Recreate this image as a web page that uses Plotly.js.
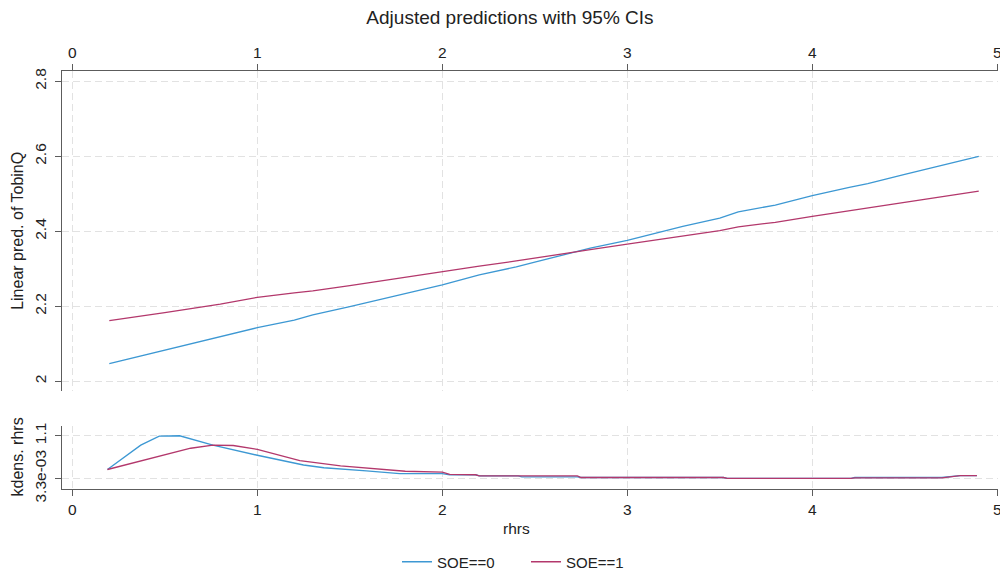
<!DOCTYPE html>
<html>
<head>
<meta charset="utf-8">
<script src="https://cdn.plot.ly/plotly-3.0.1.min.js"></script>
<style>html,body{margin:0;padding:0;background:#fff;}#chart{width:1000px;height:571px;}</style>
</head>
<body>
<div id="chart"></div>
<script>
// ---- data ----
const seriesNames = ["SOE==0", "SOE==1"];
const xPred = [0.2, 0.5, 0.8, 1.0, 1.2, 1.3, 1.5, 1.8, 2.0, 2.2, 2.4, 2.5, 2.8, 3.0, 3.3, 3.5, 3.6, 3.8, 4.0, 4.2, 4.3, 4.5, 4.7, 4.9];
const predSOE0 = [2.047, 2.083, 2.117, 2.143, 2.163, 2.177, 2.199, 2.235, 2.257, 2.284, 2.305, 2.318, 2.355, 2.376, 2.413, 2.435, 2.452, 2.470, 2.495, 2.517, 2.527, 2.552, 2.576, 2.600];
const predSOE1 = [2.162, 2.183, 2.206, 2.224, 2.236, 2.241, 2.255, 2.278, 2.292, 2.307, 2.321, 2.329, 2.351, 2.366, 2.388, 2.402, 2.412, 2.424, 2.440, 2.455, 2.462, 2.477, 2.492, 2.507];

const xDens0 = [0.19, 0.37, 0.47, 0.58, 0.76, 1.0, 1.25, 1.36, 1.59, 1.77, 2.0, 2.04, 2.18, 2.2, 2.41, 2.43, 2.73, 2.75, 3.52, 3.54, 4.21, 4.23, 4.70, 4.78, 4.80, 4.89];
const dens0   = [0.235, 0.86, 1.09, 1.10, 0.86, 0.60, 0.35, 0.28, 0.20, 0.13, 0.13, 0.10, 0.10, 0.07, 0.07, 0.045, 0.045, 0.03, 0.03, 0.005, 0.005, 0.03, 0.03, 0.06, 0.08, 0.08];
const xDens1 = [0.19, 0.46, 0.64, 0.76, 0.87, 1.0, 1.23, 1.45, 1.70, 1.80, 2.0, 2.04, 2.18, 2.2, 2.73, 2.75, 3.52, 3.54, 4.21, 4.23, 4.70, 4.78, 4.80, 4.89];
const dens1   = [0.235, 0.56, 0.78, 0.86, 0.85, 0.75, 0.46, 0.33, 0.22, 0.19, 0.17, 0.11, 0.10, 0.07, 0.07, 0.03, 0.03, 0.005, 0.005, 0.02, 0.02, 0.06, 0.08, 0.08];

const xTicks = [0, 1, 2, 3, 4, 5];
const yTicksTop = [2, 2.2, 2.4, 2.6, 2.8];
const yTickLabelsTop = ["2", "2.2", "2.4", "2.6", "2.8"];
const yTicksBot = [0.0033, 1.1];
const yTickLabelsBot = ["3.3e-03", "1.1"];

const titleText = "Adjusted predictions with 95% CIs";
const yTitleTop = "Linear pred. of TobinQ";
const yTitleBot = "kdens. rhrs";
const xTitle = "rhrs";

// ---- style ----
const colors = ["#3d98d3", "#b3386c"];
const FONT = "Liberation Sans, Arial, sans-serif";
const axisCol = "#5c5c5c";
const gridCol = "#e2e2e2";

const traces = [
  {x: xPred, y: predSOE0, name: seriesNames[0], mode: "lines", line: {color: colors[0], width: 1.3}, xaxis: "x", yaxis: "y"},
  {x: xPred, y: predSOE1, name: seriesNames[1], mode: "lines", line: {color: colors[1], width: 1.3}, xaxis: "x", yaxis: "y"},
  {x: xDens0, y: dens0, name: seriesNames[0], mode: "lines", line: {color: colors[0], width: 1.3}, xaxis: "x2", yaxis: "y2", showlegend: false},
  {x: xDens1, y: dens1, name: seriesNames[1], mode: "lines", line: {color: colors[1], width: 1.3}, xaxis: "x2", yaxis: "y2", showlegend: false}
];

const xCommon = {
  range: [-0.0557, 5.004], tickvals: xTicks, ticktext: xTicks.map(String),
  showgrid: true, gridcolor: gridCol, griddash: "7px,4px", gridwidth: 1,
  zeroline: false, showline: true, linecolor: axisCol, linewidth: 1.3,
  ticks: "outside", ticklen: 6, tickcolor: axisCol, tickwidth: 1.2,
  ticklabeloverflow: "allow", automargin: false,
  tickfont: {family: FONT, size: 15.5, color: "#222"}
};
const yCommon = {
  showgrid: true, gridcolor: gridCol, griddash: "7px,4px", gridwidth: 1,
  zeroline: false, showline: true, linecolor: axisCol, linewidth: 1.3,
  ticks: "outside", ticklen: 6, tickcolor: axisCol, tickwidth: 1.2,
  tickangle: -90, ticklabelstandoff: 3, automargin: false,
  tickfont: {family: FONT, size: 15.5, color: "#222"}
};

const layout = {
  width: 1000, height: 571,
  margin: {l: 62, r: 2, t: 71, b: 82},
  paper_bgcolor: "#ffffff", plot_bgcolor: "#ffffff",
  font: {family: FONT, color: "#222"},
  title: {text: titleText, x: 0.51, xref: "container", xanchor: "center", y: 1 - 17/571, yref: "container", yanchor: "middle",
          font: {family: FONT, size: 19, color: "#222"}},
  xaxis: Object.assign({}, xCommon, {anchor: "y", side: "top", domain: [0, 1]}),
  yaxis: Object.assign({}, yCommon, {domain: [0.2352, 1], range: [1.975, 2.8275], tickvals: yTicksTop, ticktext: yTickLabelsTop, anchor: "x"}),
  xaxis2: Object.assign({}, xCommon, {anchor: "y2", side: "bottom", domain: [0, 1]}),
  yaxis2: Object.assign({}, yCommon, {domain: [0, 0.1507], range: [-0.265, 1.35], tickvals: yTicksBot, ticktext: yTickLabelsBot, anchor: "x2"}),
  showlegend: true,
  legend: {orientation: "h", xref: "container", x: 397 / 1000, xanchor: "left", yref: "container", y: 1 - 562 / 571, yanchor: "middle",
           font: {family: FONT, size: 15, color: "#222"}, entrywidth: 84, entrywidthmode: "pixels",
           bgcolor: "rgba(0,0,0,0)"},
  annotations: [
    {text: yTitleTop, xref: "paper", yref: "paper", x: (18 - 62) / 936, y: 0.2352 + (1 - 0.2352) / 2, textangle: -90,
     showarrow: false, xanchor: "center", yanchor: "middle", font: {family: FONT, size: 16, color: "#222"}},
    {text: yTitleBot, xref: "paper", yref: "paper", x: (18 - 62) / 936, y: 0.1507 / 2, textangle: -90,
     showarrow: false, xanchor: "center", yanchor: "middle", font: {family: FONT, size: 16, color: "#222"}},
    {text: xTitle, xref: "paper", yref: "paper", x: (516 - 62) / 936, y: (489 - 528) / 418,
     showarrow: false, xanchor: "center", yanchor: "middle", font: {family: FONT, size: 15.5, color: "#222"}}
  ]
};

Plotly.newPlot("chart", traces, layout, {displayModeBar: false, staticPlot: true});
</script>
</body>
</html>
